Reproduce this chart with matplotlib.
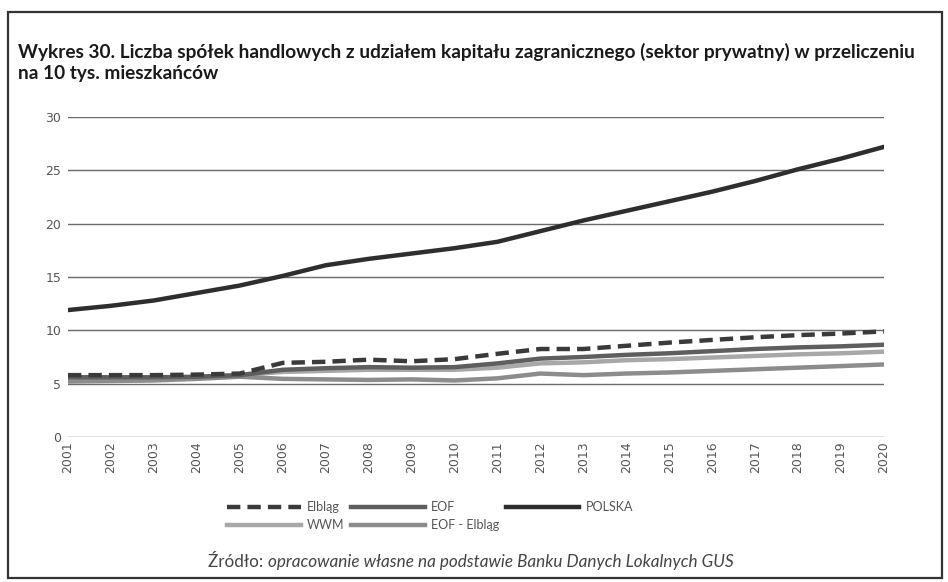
import matplotlib
matplotlib.use("Agg")
import matplotlib.pyplot as plt
from matplotlib.patches import Rectangle

years = [str(y) for y in range(2001, 2021)]
polska = [11.9, 12.3, 12.8, 13.5, 14.2, 15.1, 16.1, 16.7, 17.2, 17.7, 18.3, 19.3, 20.3, 21.2, 22.1, 23.0, 24.0, 25.1, 26.1, 27.2]
elblag = [5.8, 5.8, 5.8, 5.85, 5.95, 6.95, 7.05, 7.25, 7.1, 7.3, 7.8, 8.25, 8.25, 8.55, 8.85, 9.1, 9.35, 9.55, 9.7, 9.9]
eof = [5.6, 5.6, 5.6, 5.65, 5.8, 6.3, 6.45, 6.55, 6.5, 6.55, 6.9, 7.35, 7.5, 7.7, 7.85, 8.05, 8.25, 8.4, 8.5, 8.65]
wwm = [5.4, 5.45, 5.5, 5.6, 5.8, 6.1, 6.2, 6.3, 6.3, 6.3, 6.5, 6.9, 7.0, 7.2, 7.3, 7.45, 7.6, 7.75, 7.85, 8.0]
eof_elblag = [5.2, 5.25, 5.3, 5.45, 5.65, 5.45, 5.4, 5.35, 5.4, 5.3, 5.5, 5.95, 5.8, 5.95, 6.05, 6.2, 6.35, 6.5, 6.65, 6.8]
yticks = [0, 5, 10, 15, 20, 25, 30]

W, H = 948, 582
fig = plt.figure(figsize=(W / 100, H / 100), dpi=100)
fig.patch.set_facecolor("white")

# outer frame
fig.add_artist(Rectangle((8 / W, 1 - 578 / H), (942 - 8) / W, (578 - 12) / H,
                         transform=fig.transFigure, fill=False, edgecolor="#333333", linewidth=1.6))

fig.text(18 / W, 1 - 52 / H,
         "Wykres 30. Liczba spółek handlowych z udziałem kapitału zagranicznego (sektor prywatny) w przeliczeniu",
         fontsize=13.7, fontweight="bold", family="Lato", color="#1a1a1a", va="center", ha="left")
fig.text(18 / W, 1 - 73 / H, "na 10 tys. mieszkańców",
         fontsize=13.7, fontweight="bold", family="Lato", color="#1a1a1a", va="center", ha="left")

ax = fig.add_axes([68 / W, 1 - 437 / H, (884 - 68) / W, (437 - 117) / H])
x = list(range(len(years)))

l_el, = ax.plot(x, elblag, color="#3a3a3a", lw=3.2, dashes=(3, 1.6), label="Elbląg", zorder=6)
l_eof, = ax.plot(x, eof, color="#5e5e5e", lw=3.2, label="EOF", zorder=5)
l_pl, = ax.plot(x, polska, color="#2e2e2e", lw=3.2, label="POLSKA", zorder=5)
l_wwm, = ax.plot(x, wwm, color="#a8a8a8", lw=3.2, label="WWM", zorder=4)
l_ee, = ax.plot(x, eof_elblag, color="#8c8c8c", lw=3.2, label="EOF - Elbląg", zorder=4)

ax.set_xlim(0, len(years) - 1)
ax.set_ylim(0, 30)
ax.set_yticks(yticks)
ax.set_yticklabels([str(v) for v in yticks])
ax.set_xticks(x)
ax.set_xticklabels(years, rotation=90)
ax.yaxis.grid(True, color="#6a6a6a", linewidth=1.0)
ax.set_axisbelow(True)
for s in ax.spines.values():
    s.set_visible(False)
ax.tick_params(axis="y", length=0, pad=5, labelsize=9, labelcolor="#555555")
ax.tick_params(axis="x", length=0, pad=3, labelsize=9, labelcolor="#555555")

leg = fig.legend(handles=[l_el, l_wwm, l_eof, l_ee, l_pl], ncol=3, frameon=False,
                 loc="upper left", bbox_to_anchor=(216 / W, 1 - 490 / H),
                 handlelength=5.9, handletextpad=0.5, columnspacing=0.5,
                 labelspacing=0.45, prop={"family": "Lato", "size": 9})
for t in leg.get_texts():
    t.set_color("#555555")

t1 = fig.text(208 / W, 1 - 562 / H, "Źródło: ", fontsize=12.3, family="Lato",
              color="#444444", va="center", ha="left")
ax.annotate("opracowanie własne na podstawie Banku Danych Lokalnych GUS",
            xy=(1, 0), xycoords=t1, va="bottom", ha="left",
            fontsize=12.3, family="Lato", style="italic", color="#444444")

fig.savefig("out.png", dpi=100)
